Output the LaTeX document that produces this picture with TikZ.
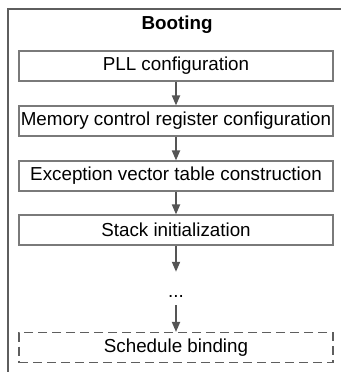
\documentclass[tikz,border=0pt]{standalone}
\usepackage{fontspec}
\setmainfont{Liberation Sans}
\usetikzlibrary{arrows.meta}
\definecolor{framegray}{HTML}{5E5E5E}
\definecolor{boxgray}{HTML}{7A7A7A}
\definecolor{arrowgray}{HTML}{555555}
\begin{document}
\begin{tikzpicture}[x=1pt,y=-1pt,
    font=\fontsize{18.8}{22}\selectfont,
    stage/.style={draw=boxgray, line width=1.1pt, minimum width=314pt, minimum height=30pt, inner sep=0pt},
    later/.style={stage, draw=framegray, dash pattern=on 9pt off 5pt},
    flow/.style={draw=arrowgray, line width=1.8pt, -{Triangle[length=10pt,width=8pt]}}]
\useasboundingbox (0,0) rectangle (340,372);

% Outer frame, only top and left side visible
\draw[framegray, line width=2.5pt] (8,380) -- (8,9) -- (350,9);
\node[font=\fontsize{18.8}{22}\selectfont\bfseries] (title) at (177,25) {Booting};

% Boot steps
\node[stage] (pll) at (176,66) {PLL configuration};
\node[stage] (mem) at (176,121) {Memory control register configuration};
\node[stage] (exc) at (176,176) {Exception vector table construction};
\node[stage] (stack) at (176,230) {Stack initialization};
\node[inner sep=0pt] (dots) at (176,296) {...};
\node[later] (sched) at (176,347.5) {Schedule binding};

% Arrows between the steps
\draw[flow] (pll) -- (mem);
\draw[flow] (mem) -- (exc);
\draw[flow] (exc) -- (stack);
\draw[flow, shorten >=23pt] (stack) -- (dots);
\draw[flow, shorten <=8pt] (dots) -- (sched);
\end{tikzpicture}
\end{document}
